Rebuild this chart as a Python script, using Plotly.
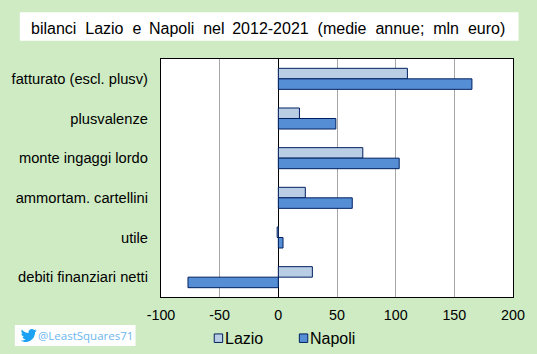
import plotly.graph_objects as go

categories = ["fatturato (escl. plusv)", "plusvalenze", "monte ingaggi lordo",
              "ammortam. cartellini", "utile", "debiti finanziari netti"]
lazio = [110, 18, 72, 23, -1, 29]
napoli = [165, 49, 103, 63, 4, -77]
x_ticks = [-100, -50, 0, 50, 100, 150, 200]
x_tick_labels = ["-100", "-50", "0", "50", "100", "150", "200"]
title_text = ("bilanci\u00a0 Lazio\u00a0 e\u00a0\u2009Napoli\u00a0 nel\u00a0\u20092012-2021\u00a0 "
              "(medie\u00a0 annue;\u00a0 mln\u00a0 euro)")

W, H = 537, 354
BG = "#CEEBC3"
FONT = "Liberation Sans"
OUT = "#002060"
LAZIO_C = "#B9CDE5"
NAPOLI_C = "#558ED5"
L, R, T, B = 158.7, 514.4, 59.3, 297.1
PW, PH = R - L, B - T

def px(x):
    return (x - L) / PW

def py(y):
    return (B - y) / PH

fig = go.Figure()
fig.add_bar(name="Lazio", y=categories, x=lazio, orientation="h", showlegend=False,
            marker=dict(color=LAZIO_C, line=dict(color=OUT, width=1)))
fig.add_bar(name="Napoli", y=categories, x=napoli, orientation="h", showlegend=False,
            marker=dict(color=NAPOLI_C, line=dict(color=OUT, width=1)))

bird = ("M 24 4.6 C 23.1 5 22.2 5.3 21.2 5.4 C 22.2 4.8 23 3.8 23.4 2.7 C 22.4 3.3 21.3 3.7 20.2 3.9 "
        "C 19.3 2.9 18 2.3 16.6 2.3 C 13.9 2.3 11.7 4.5 11.7 7.2 C 11.7 7.6 11.7 8 11.8 8.3 "
        "C 7.7 8.1 4.1 6.1 1.7 3.1 C 1.2 3.8 1 4.7 1 5.6 C 1 7.3 1.9 8.8 3.2 9.7 "
        "C 2.4 9.7 1.6 9.5 1 9.1 C 1 11.5 2.7 13.5 4.9 14 C 4.2 14.2 3.4 14.2 2.7 14.1 "
        "C 3.3 16.1 5.1 17.5 7.3 17.5 C 5.6 18.8 3.5 19.6 1.2 19.6 C 0.8 19.6 0.4 19.6 0 19.5 "
        "C 2.2 20.9 4.8 21.7 7.5 21.7 C 16.6 21.7 21.5 14.2 21.5 7.7 C 21.5 7.5 21.5 7.3 21.5 7.1 "
        "C 22.5 6.4 23.3 5.6 24 4.6 Z")

def bird_path(ox, oy, s):
    out = []
    toks = bird.split()
    i = 0
    while i < len(toks):
        t = toks[i]
        if t in "MCZ":
            out.append(t)
            i += 1
        else:
            xv = ox + float(toks[i]) * s
            yv = oy + float(toks[i + 1]) * s
            out.append(f"{px(xv):.5f},{py(yv):.5f}")
            i += 2
    return " ".join(out)

def swatch(x0, color):
    return dict(type="rect", xref="paper", yref="paper",
                x0=px(x0), x1=px(x0 + 8.5), y0=py(342.5), y1=py(334),
                fillcolor=color, line=dict(color=OUT, width=1))

shapes = [
    dict(type="rect", xref="paper", yref="paper", layer="below",
         x0=px(16), x1=px(520), y0=py(41), y1=py(12.7),
         fillcolor="white", line_width=0),
    dict(type="rect", xref="paper", yref="paper", layer="below",
         x0=px(11), x1=px(133), y0=py(346), y1=py(325),
         fillcolor="white", line_width=0),
    dict(type="path", xref="paper", yref="paper", path=bird_path(17, 327.5, 0.67),
         fillcolor="#1DA1F2", line_width=0),
    swatch(212.5, LAZIO_C),
    swatch(298.5, NAPOLI_C),
]

def label(text, x, y, size, family=FONT, color="black", anchor="left"):
    return dict(text=text, xref="paper", yref="paper", x=px(x), y=py(y),
                xanchor=anchor, yanchor="middle", showarrow=False,
                xshift=0, borderpad=0, borderwidth=0,
                font=dict(family=family, size=size, color=color))

annotations = [
    label(title_text, 267, 28.5, 16, anchor="center"),
    label("@LeastSquares71", 34.5, 336, 11.5, family="Open Sans", color="#6CB6EE"),
    label("Lazio", 223, 338.5, 16),
    label("Napoli", 309, 338.5, 16),
]

fig.update_layout(
    width=W, height=H, autosize=False, showlegend=False,
    paper_bgcolor=BG, plot_bgcolor="white",
    margin=dict(l=L, r=W - R, t=T, b=H - B, pad=0),
    barmode="group", bargap=0.47, bargroupgap=0,
    font=dict(family=FONT, size=14, color="black"),
    shapes=shapes, annotations=annotations,
    xaxis=dict(range=[-100, 200], tickvals=x_ticks, ticktext=x_tick_labels,
               showgrid=True, gridcolor="#A6A6A6",
               gridwidth=1, zeroline=True, zerolinecolor="black", zerolinewidth=1.25,
               showline=True, mirror=True, linecolor="black", linewidth=1.25,
               ticks="outside", ticklen=5, tickcolor="rgba(0,0,0,0)",
               tickfont=dict(family=FONT, size=14.3)),
    yaxis=dict(autorange="reversed", showgrid=False, zeroline=False,
               showline=True, mirror=True, linecolor="black", linewidth=1.25,
               ticks="outside", ticklen=9, tickcolor="rgba(0,0,0,0)",
               tickfont=dict(family=FONT, size=14.7)),
)

fig.write_html("out.html", config=dict(displayModeBar=False),
               post_script="document.body.style.margin='0';document.body.style.overflow='hidden';"
                           f"document.body.style.background='{BG}';")
